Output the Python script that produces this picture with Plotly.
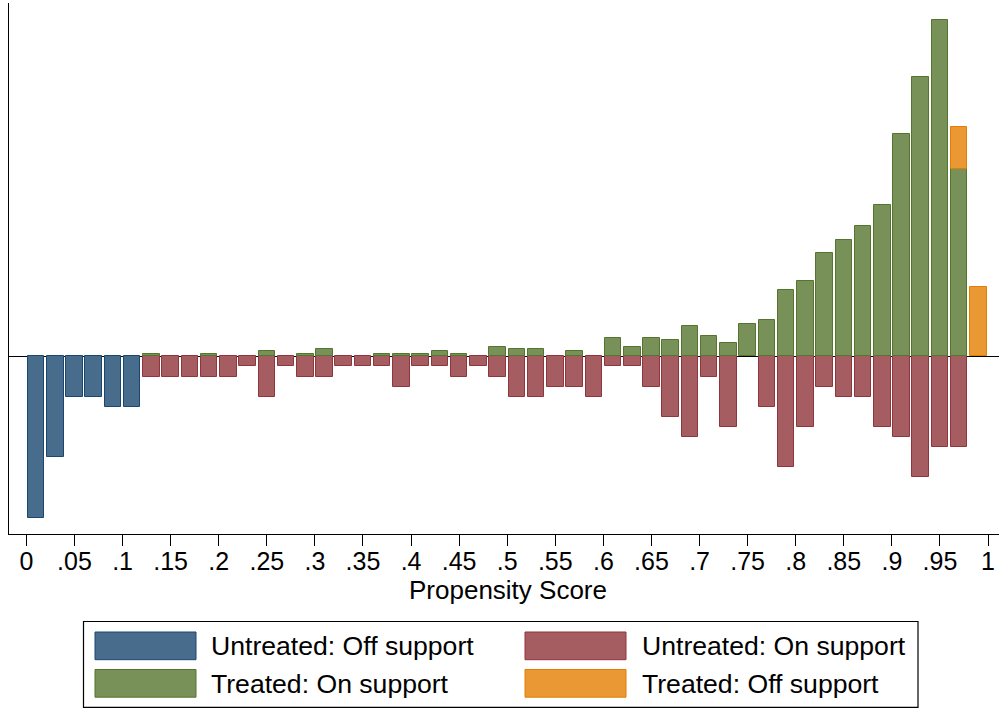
import plotly.graph_objects as go

# ---- data (bin midpoints of propensity score, width 0.02) ----
bin_centers = [0.01, 0.03, 0.05, 0.07, 0.09, 0.11, 0.13, 0.15, 0.17, 0.19,
               0.21, 0.23, 0.25, 0.27, 0.29, 0.31, 0.33, 0.35, 0.37, 0.39,
               0.41, 0.43, 0.45, 0.47, 0.49, 0.51, 0.53, 0.55, 0.57, 0.59,
               0.61, 0.63, 0.65, 0.67, 0.69, 0.71, 0.73, 0.75, 0.77, 0.79,
               0.81, 0.83, 0.85, 0.87, 0.89, 0.91, 0.93, 0.95, 0.97, 0.99]

# untreated (drawn downward)
untreated_off = [16, 10, 4, 4, 5, 5, 0, 0, 0, 0,
                 0, 0, 0, 0, 0, 0, 0, 0, 0, 0,
                 0, 0, 0, 0, 0, 0, 0, 0, 0, 0,
                 0, 0, 0, 0, 0, 0, 0, 0, 0, 0,
                 0, 0, 0, 0, 0, 0, 0, 0, 0, 0]
untreated_on = [0, 0, 0, 0, 0, 0, 2, 2, 2, 2,
                2, 1, 4, 1, 2, 2, 1, 1, 1, 3,
                1, 1, 2, 1, 2, 4, 4, 3, 3, 4,
                1, 1, 3, 6, 8, 2, 7, 0, 5, 11,
                7, 3, 4, 4, 7, 8, 12, 9, 9, 0]
# treated (drawn upward)
treated_on = [0, 0, 0, 0, 0, 0, 0.24, 0, 0, 0.24,
              0, 0, 0.52, 0, 0.24, 0.74, 0, 0, 0.24, 0.24,
              0.24, 0.5, 0.24, 0, 0.92, 0.72, 0.72, 0, 0.5, 0,
              1.81, 0.92, 1.81, 1.6, 2.97, 2.04, 1.36, 3.17, 3.65, 6.56,
              7.48, 10.21, 11.58, 12.95, 14.99, 22.03, 27.67, 33.40, 18.59, 0]
treated_off = [0, 0, 0, 0, 0, 0, 0, 0, 0, 0,
               0, 0, 0, 0, 0, 0, 0, 0, 0, 0,
               0, 0, 0, 0, 0, 0, 0, 0, 0, 0,
               0, 0, 0, 0, 0, 0, 0, 0, 0, 0,
               0, 0, 0, 0, 0, 0, 0, 0, 4.17, 6.88]

tick_vals = [0, 0.05, 0.1, 0.15, 0.2, 0.25, 0.3, 0.35, 0.4, 0.45, 0.5,
             0.55, 0.6, 0.65, 0.7, 0.75, 0.8, 0.85, 0.9, 0.95, 1]
tick_text = ["0", ".05", ".1", ".15", ".2", ".25", ".3", ".35", ".4", ".45", ".5",
             ".55", ".6", ".65", ".7", ".75", ".8", ".85", ".9", ".95", "1"]

series_names = ["Untreated: Off support", "Untreated: On support",
                "Treated: On support", "Treated: Off support"]

# ---- styles ----
FONT = "Liberation Sans, Arial, Helvetica, sans-serif"
fills = ["#486c8c", "#a65d62", "#779159", "#e99833"]
edges = ["#1a476f", "#90353b", "#55752f", "#e37e00"]

W, H = 1000, 709
ML, MR, MT, MB = 9, 1, 3, 175
PW, PH = W - ML - MR, H - MT - MB


def px_x(px):
    return (px - ML) / PW


def px_y(py):
    return (H - MB - py) / PH


fig = go.Figure()
series_vals = [
    [-v for v in untreated_off],
    [-v for v in untreated_on],
    treated_on,
    treated_off,
]
for name, vals, fc, ec in zip(series_names, series_vals, fills, edges):
    fig.add_trace(go.Bar(
        x=bin_centers,
        y=[v if v != 0 else None for v in vals],
        width=0.0172,
        name=name,
        marker=dict(color=fc, line=dict(color=ec, width=1)),
        showlegend=False,
    ))

# ---- manual legend (wide swatches as in the original) ----
shapes = [dict(type="rect", xref="paper", yref="paper",
               x0=px_x(83.5), x1=px_x(918), y0=px_y(621.5), y1=px_y(707.3),
               line=dict(color="black", width=1.2), fillcolor="white", layer="below")]
annotations = [dict(xref="paper", yref="paper", x=px_x(508), y=px_y(590),
                    text="Propensity Score", showarrow=False,
                    xanchor="center", yanchor="middle",
                    font=dict(family=FONT, size=26, color="black"))]
legend_pos = [(95, 632, 208.5), (525, 632, 639.5), (95, 669.5, 208.5), (525, 669.5, 639.5)]
for k, (sx, sy, tx) in enumerate(legend_pos):
    shapes.append(dict(type="rect", xref="paper", yref="paper",
                       x0=px_x(sx), x1=px_x(sx + 101), y0=px_y(sy), y1=px_y(sy + 27.7),
                       line=dict(color=edges[k], width=1), fillcolor=fills[k]))
    annotations.append(dict(xref="paper", yref="paper", x=px_x(tx), y=px_y(sy + 14),
                            text=series_names[k], showarrow=False,
                            xanchor="left", yanchor="middle",
                            font=dict(family=FONT, size=26.6, color="black")))

fig.update_layout(
    width=W, height=H,
    margin=dict(l=ML, r=MR, t=MT, b=MB, autoexpand=False),
    paper_bgcolor="white", plot_bgcolor="white",
    barmode="relative",
    bargap=0,
    font=dict(family=FONT, color="black"),
    shapes=shapes,
    annotations=annotations,
    xaxis=dict(
        range=[-0.0181, 1.0114],
        automargin=False,
        tickmode="array", tickvals=tick_vals, ticktext=tick_text,
        ticks="outside", ticklen=11, tickwidth=1.2, tickcolor="black",
        ticklabelstandoff=-6,
        tickfont=dict(family=FONT, size=25, color="black"),
        showline=True, linecolor="black", linewidth=1.3,
        showgrid=False, zeroline=False,
    ),
    yaxis=dict(
        range=[-17.61, 35.04],
        automargin=False,
        showticklabels=False, ticks="",
        showline=True, linecolor="black", linewidth=1.3,
        showgrid=False,
        zeroline=True, zerolinecolor="black", zerolinewidth=1.3,
    ),
)

fig.write_html("out.html",
               config={"displayModeBar": False},
               post_script="document.body.style.margin='0';document.body.style.overflow='hidden';")
